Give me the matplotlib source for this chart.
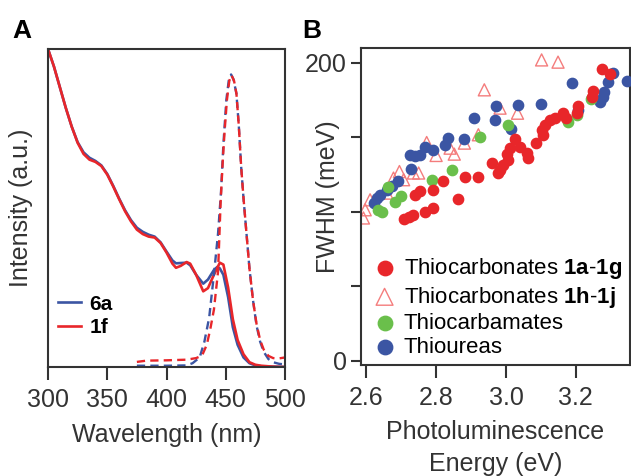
import matplotlib
matplotlib.use("Agg")
import matplotlib.pyplot as plt

plt.rcParams['font.family'] = ['Liberation Sans', 'DejaVu Sans']
plt.rcParams['mathtext.fontset'] = 'custom'
plt.rcParams['mathtext.rm'] = 'Liberation Sans'
plt.rcParams['mathtext.bf'] = 'Liberation Sans:bold'

# ---- panel A: absorption (solid) and emission (dashed) spectra ----
abs_6a_wl = [300, 305, 310, 315, 320, 325, 330, 335, 340, 345, 350, 355, 360, 365, 370, 375, 380,
             385, 390, 395, 400, 405, 408, 412, 417, 420, 425, 431, 435, 440, 443, 445, 448, 452,
             456, 460, 465, 470, 475, 480, 490, 500]
abs_6a = [1.0, 0.945, 0.88, 0.815, 0.756, 0.707, 0.675, 0.658, 0.648, 0.634, 0.607, 0.57, 0.53,
          0.493, 0.462, 0.438, 0.425, 0.416, 0.41, 0.392, 0.363, 0.335, 0.326, 0.327, 0.328, 0.32,
          0.29, 0.262, 0.275, 0.305, 0.315, 0.31, 0.29, 0.22, 0.125, 0.07, 0.03, 0.012, 0.005,
          0.002, 0.001, 0.0]
abs_1f_wl = [300, 305, 310, 315, 320, 325, 330, 335, 340, 345, 350, 355, 360, 365, 370, 375, 380,
             385, 390, 395, 400, 405, 408, 412, 417, 420, 425, 431, 435, 440, 445, 448, 452, 456,
             460, 465, 470, 475, 480, 490, 500]
abs_1f = [1.0, 0.945, 0.88, 0.815, 0.756, 0.705, 0.67, 0.652, 0.645, 0.632, 0.605, 0.568, 0.528,
          0.49, 0.458, 0.432, 0.418, 0.41, 0.407, 0.39, 0.36, 0.325, 0.312, 0.318, 0.33, 0.325,
          0.29, 0.238, 0.248, 0.29, 0.328, 0.322, 0.25, 0.15, 0.085, 0.04, 0.015, 0.007, 0.004,
          0.001, 0.0]
em_6a_wl = [375, 400, 417, 422, 428, 432, 436, 440, 443.5, 446, 448, 450.5, 452.5, 454.5, 456.5,
            459, 461, 463, 465, 467.5, 470, 473, 476, 479, 482, 486, 490, 495, 500]
em_6a = [0.004, 0.004, 0.005, 0.012, 0.03, 0.08, 0.155, 0.29, 0.42, 0.55, 0.7, 0.84, 0.9, 0.92,
         0.905, 0.86, 0.76, 0.63, 0.53, 0.42, 0.31, 0.21, 0.13, 0.08, 0.048, 0.025, 0.015, 0.01,
         0.008]
em_1f_wl = [375, 383, 400, 417, 425, 430, 434, 437, 440, 443.5, 445.7, 447.5, 449, 451, 453,
            454.8, 457, 459, 461, 463, 465, 467.5, 470, 473, 476, 479, 482, 486, 490, 495, 500]
em_1f = [0.016, 0.02, 0.021, 0.023, 0.028, 0.036, 0.07, 0.12, 0.18, 0.3, 0.52, 0.65, 0.74, 0.84,
         0.9, 0.918, 0.9, 0.86, 0.76, 0.63, 0.53, 0.42, 0.31, 0.21, 0.135, 0.085, 0.055, 0.035,
         0.028, 0.027, 0.03]

# ---- panel B: FWHM vs photoluminescence energy ----
tc_E = [3.276, 3.297, 3.249, 3.245, 3.207, 3.202, 3.164, 3.173, 3.14, 3.126, 3.111, 3.102, 3.107,
        3.085, 3.026, 3.04, 3.059, 3.064, 3.011, 3.002, 3.007, 2.992, 2.983, 2.978, 2.959, 2.921,
        2.883, 2.864, 2.821, 2.792, 2.754, 2.74, 2.792, 2.769, 2.735, 2.721, 2.707]
tc_F = [196, 192.6, 181, 177, 170.7, 166, 166, 163, 163, 161.7, 158, 155, 151.7, 146, 148.8, 143.8,
        139.4, 136, 142.7, 138.9, 134.9, 131.5, 128.2, 126, 132.7, 123, 123, 108.7, 120.8, 114.8,
        113.6, 111.4, 102.5, 99.5, 97.5, 96.2, 95.1]
tc2_E = [3.102, 3.149, 2.938, 2.983, 3.033, 2.921, 2.881, 2.84, 2.852, 2.8, 2.773, 2.735, 2.75,
         2.695, 2.678, 2.707, 2.659, 2.611, 2.597, 2.592]
tc2_F = [202, 200.5, 181.9, 169.6, 166.2, 151.7, 146.1, 142.7, 138.7, 137.8, 146.5, 126, 126, 127,
         122.6, 121.5, 112.5, 108, 101.3, 95.8]
cb_E = [3.243, 3.202, 3.178, 3.007, 2.926, 2.845, 2.788, 2.7, 2.681, 2.662, 2.635, 2.645]
cb_F = [175.5, 165, 160.6, 158.4, 150, 128.2, 121.5, 110.3, 106.3, 116.3, 101.3, 99.8]
tu_E = [3.307, 3.345, 3.292, 3.281, 3.269, 3.277, 3.207, 3.188, 3.1, 3.035, 2.971, 2.969, 2.909,
        3.013, 2.881, 2.835, 2.826, 2.79, 2.769, 2.754, 2.74, 2.726, 2.729, 2.692, 2.673, 2.659,
        2.64, 2.63, 2.621]
tu_F = [193, 187.5, 187, 180.7, 174, 177, 168.5, 186.3, 172.2, 171.8, 171.1, 161.3, 162.9, 155.7,
        148.8, 149.4, 145, 141.6, 143.8, 138.3, 137.6, 138.3, 128.9, 120.8, 117, 114.8, 111.4,
        109.2, 105.8]

blue = '#3b55a3'
red = '#e8262a'
pink = '#f47c7c'
green = '#6abf4b'
dark = '#333333'

fig = plt.figure(figsize=(6.31, 4.76), dpi=100)
axA = fig.add_axes([48/631, 1-367/476, 237/631, 318/476])
axB = fig.add_axes([361/631, 1-365/476, 269/631, 317/476])

axA.plot(abs_6a_wl, abs_6a, color=blue, lw=1.9, label='6a')
axA.plot(abs_1f_wl, abs_1f, color=red, lw=1.9, label='1f')
axA.plot(em_6a_wl, em_6a, color=blue, lw=1.7, ls=(0, (3.5, 2.2)))
axA.plot(em_1f_wl, em_1f, color=red, lw=1.7, ls=(0, (3.5, 2.2)))
axA.set_xlim(300, 500)
axA.set_ylim(0, 1.0)
axA.set_xticks([300, 350, 400, 450, 500])
axA.set_yticks([])
axA.set_xlabel('Wavelength (nm)', fontsize=18, color=dark, labelpad=8)
axA.set_ylabel('Intensity (a.u.)', fontsize=18, color=dark)
axA.yaxis.set_label_coords(-0.063, 0.5)
axA.legend(loc='upper left', bbox_to_anchor=(0.0, 0.26), frameon=False, borderpad=0,
           handlelength=1.1, handletextpad=0.4, labelspacing=0.2,
           prop={'weight': 'bold', 'size': 15})

axB.scatter(tc2_E, tc2_F, marker='^', s=75, facecolors='none', edgecolors=pink, linewidths=1,
            label=r'Thiocarbonates $\mathbf{1h}$-$\mathbf{1j}$', zorder=2)
axB.scatter(tu_E, tu_F, s=55, color=blue, label='Thioureas', zorder=3)
axB.scatter(cb_E, cb_F, s=55, color=green, label='Thiocarbamates', zorder=3)
axB.scatter(tc_E, tc_F, s=55, color=red, label=r'Thiocarbonates $\mathbf{1a}$-$\mathbf{1g}$', zorder=4)
axB.set_xlim(2.585, 3.355)
axB.set_ylim(-3, 210)
axB.set_xticks([2.6, 2.8, 3.0, 3.2])
axB.set_xticklabels(['2.6', '2.8', '3.0', '3.2'])
axB.set_yticks([0, 50, 100, 150, 200])
axB.set_yticklabels(['0', '', '', '', '200'])
axB.set_xlabel('Photoluminescence\nEnergy (eV)', fontsize=18, color=dark, linespacing=1.38)
axB.xaxis.set_label_coords(0.5, -0.175)
axB.xaxis.label.set_va('top')
axB.set_ylabel('FWHM (meV)', fontsize=18, color=dark)
axB.yaxis.set_label_coords(-0.078, 0.53)
h, l = axB.get_legend_handles_labels()
order = [3, 0, 2, 1]
axB.legend([h[i] for i in order], [l[i] for i in order], loc='upper left',
           bbox_to_anchor=(0.005, 0.378), frameon=False, borderpad=0, handlelength=1.0,
           handletextpad=0.37, labelspacing=0.15, markerscale=1.4, fontsize=16)

for ax in (axA, axB):
    for s in ax.spines.values():
        s.set_color(dark)
        s.set_linewidth(1.5)
    ax.tick_params(axis='x', direction='out', length=9, width=1.5, color=dark,
                   labelsize=18, labelcolor=dark, pad=6)
    ax.tick_params(axis='y', direction='out', length=7, width=1.5, color=dark,
                   labelsize=18, labelcolor=dark, pad=3)

fig.text(12/631, 1-38/476, 'A', fontsize=19, fontweight='bold')
fig.text(302/631, 1-38/476, 'B', fontsize=19, fontweight='bold')

fig.savefig('out.png', dpi=100)
